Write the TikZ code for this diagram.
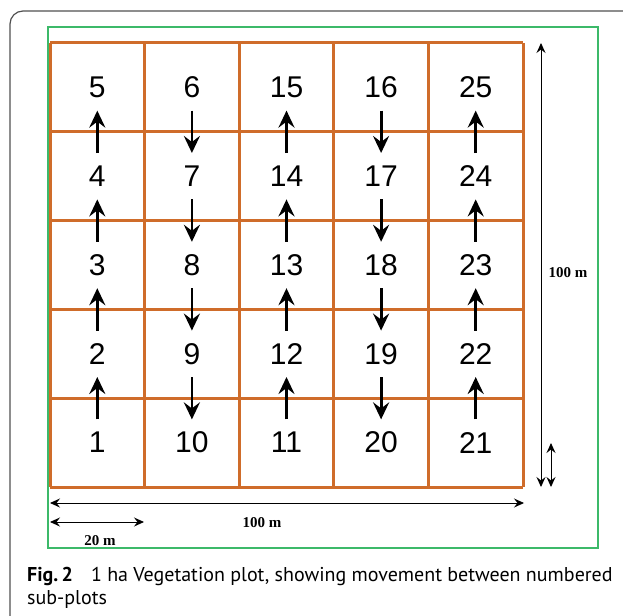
\documentclass[tikz,border=0pt]{standalone}
\usepackage{fontspec}
\setmainfont{Liberation Serif}
\newfontfamily\numfont{Liberation Sans}
\newfontfamily\capfont{PT Sans}
\usetikzlibrary{arrows.meta}
\definecolor{gridor}{RGB}{207,108,42}
\definecolor{frgreen}{RGB}{60,185,105}
\definecolor{framegray}{RGB}{80,80,80}
\tikzset{
  num/.style={font=\numfont\fontsize{30}{30}\selectfont, inner sep=0pt, minimum height=46pt, anchor=center},
  mv/.style={line width=2.8pt, -{Stealth[length=17pt,width=16pt,inset=6pt]}},
  dim/.style={line width=0.9pt, {Stealth[length=10pt,width=9pt,inset=3.5pt]}-{Stealth[length=10pt,width=9pt,inset=3.5pt]}},
  dimlabel/.style={font=\fontsize{15}{15}\selectfont\bfseries, inner sep=0pt},
  gridline/.style={draw=gridor, line width=3pt},
  captext/.style={anchor=base west, inner sep=0pt, font=\capfont\fontsize{20}{24}\selectfont}
}
\begin{document}
\begin{tikzpicture}[x=1pt,y=-1pt]
\useasboundingbox (0,0) rectangle (623,615);
\clip (0,0) rectangle (623,615);
\fill[white] (0,0) rectangle (623,615);
% outer frame
\draw[framegray, line width=1.2pt, rounded corners=13pt] (10,11) rectangle (660,660);
% green frame
\draw[frgreen, line width=2pt] (47.5,27.5) rectangle (598,548);
% grid
\foreach \i in {0,...,5} {
  \draw[gridline] ({50+\i*94.6},43) -- ({50+\i*94.6},487);
  \draw[gridline] (50,{43+\i*88.8}) -- (523,{43+\i*88.8});
}
% numbers
\foreach \c/\colnums in {0/{5,4,3,2,1},1/{6,7,8,9,10},2/{15,14,13,12,11},3/{16,17,18,19,20},4/{25,24,23,22,21}} {
  \foreach \n [count=\r from 0] in \colnums {
    \node[num] (n\n) at ({50+(\c+0.5)*94.6},{43+(\r+0.5)*88.8}) {\n};
  }
}
% movement arrows
\foreach \a/\b in {1/2,2/3,3/4,4/5,6/7,7/8,8/9,9/10,11/12,12/13,13/14,14/15,16/17,17/18,18/19,19/20,21/22,22/23,23/24,24/25} {
  \draw[mv] (n\a) -- (n\b);
}
% dimension lines
\coordinate (vt) at (541,43);
\coordinate (vb) at (541,487);
\coordinate (st) at (551,443);
\coordinate (sb) at (551,487);
\coordinate (hl) at (50,503);
\coordinate (hr) at (524,503);
\coordinate (tl) at (50,522);
\coordinate (tr) at (144,522);
\draw[dim] (vb) -- (vt);
\draw[dim] (sb) -- (st);
\draw[dim] (hl) -- (hr);
\draw[dim] (tl) -- (tr);
\node[dimlabel] (lv) at (568,273) {100 m};
\node[dimlabel] (lh) at (262,523) {100 m};
\node[dimlabel] (l20) at (100,541) {20 m};
% caption
\node[captext] (cap1) at (27,581) {\textbf{Fig.\,2}\hspace{0.9em}1 ha Vegetation plot, showing movement between numbered};
\node[captext] (cap2) at (27,604) {sub-plots};
\end{tikzpicture}
\end{document}
